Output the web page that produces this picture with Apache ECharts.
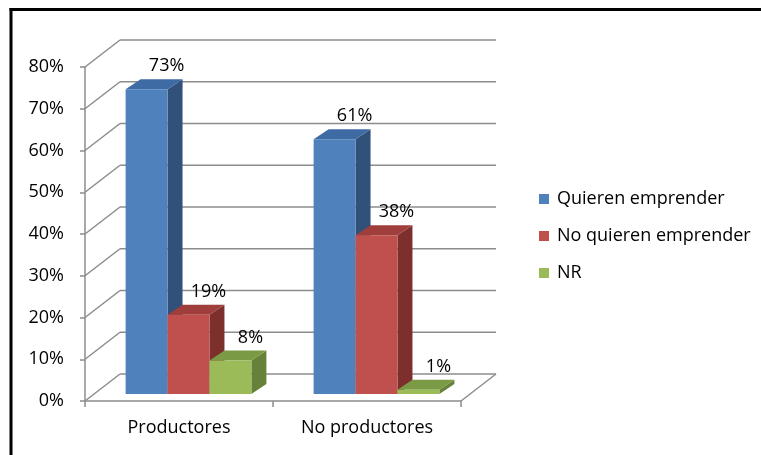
<!DOCTYPE html>
<html>
<head>
<meta charset="utf-8">
<script src="https://cdn.jsdelivr.net/npm/echarts@6/dist/echarts.min.js"></script>
<style>
html,body{margin:0;padding:0;background:#fff;}
#chart{width:761px;height:455px;}
</style>
</head>
<body>
<div id="chart"></div>
<script>
const categories = ['Productores', 'No productores'];
const seriesNames = ['Quieren emprender', 'No quieren emprender', 'NR'];
const quierenEmprender = [0.73, 0.61];
const noQuierenEmprender = [0.19, 0.38];
const noResponde = [0.08, 0.01];
const yTicks = [0, 0.1, 0.2, 0.3, 0.4, 0.5, 0.6, 0.7, 0.8];

const seriesValues = [quierenEmprender, noQuierenEmprender, noResponde];
const faceColors = [
  {front: '#4F81BD', top: '#3F6BA5', side: '#31507A'},
  {front: '#C0504D', top: '#A03E3C', side: '#7D2F2E'},
  {front: '#9BBB59', top: '#7A9A45', side: '#67813A'}
];

const FONT = '"Open Sans", sans-serif';
const WALL_DX = 35, WALL_DY = -27;      // depth of the back wall
const SHIFT_DX = 9.5, SHIFT_DY = -7;    // bars sit a little behind the front plane
const BAR_DX = 15, BAR_DY = -10;        // depth of each bar
const BAR_FRAC = 0.223;                 // bar width as a fraction of the band
const GRID_COLOR = '#8C8C8C';

const chart = echarts.init(document.getElementById('chart'), null, {renderer: 'canvas'});

function wallRender(params, api) {
  const cs = params.coordSys;
  const v = api.value(1);
  const y = api.coord([0, v])[1];
  const x0 = cs.x, x1 = cs.x + cs.width;
  const style = {stroke: GRID_COLOR, lineWidth: 1.5, fill: null};
  const children = [
    {type: 'line', shape: {x1: x0, y1: y, x2: x0 + WALL_DX, y2: y + WALL_DY}, style},
    {type: 'line', shape: {x1: x0 + WALL_DX, y1: y + WALL_DY, x2: x1 + WALL_DX, y2: y + WALL_DY}, style}
  ];
  if (v === 0) {
    children.push({type: 'line', shape: {x1: x1, y1: y, x2: x1 + WALL_DX, y2: y + WALL_DY}, style});
  }
  return {type: 'group', children};
}

function makeBarRender(sIdx) {
  return function (params, api) {
    const c = api.value(0);
    const v = api.value(1);
    const center = api.coord([c, 0]);
    const band = api.size([1, 0])[0];
    const bw = band * BAR_FRAC;
    const left = center[0] + SHIFT_DX - 1.5 * bw + sIdx * bw;
    const right = left + bw;
    const bottom = center[1] + SHIFT_DY;
    const top = api.coord([c, v])[1] + SHIFT_DY;
    const col = faceColors[sIdx];
    const pct = Math.round(v * 100) + '%';
    return {
      type: 'group',
      children: [
        {type: 'polygon', shape: {points: [[right, top], [right + BAR_DX, top + BAR_DY], [right + BAR_DX, bottom + BAR_DY], [right, bottom]]},
         style: {fill: col.side}},
        {type: 'polygon', shape: {points: [[left, top], [left + BAR_DX, top + BAR_DY], [right + BAR_DX, top + BAR_DY], [right, top]]},
         style: {fill: col.top}},
        {type: 'rect', shape: {x: left, y: top, width: bw, height: Math.max(bottom - top, 0)},
         style: {fill: col.front}},
        {type: 'text', x: left + bw / 2 + 20, y: top - 23,
         style: {text: pct, fill: '#000', font: '18px ' + FONT, align: 'center', verticalAlign: 'middle'}}
      ]
    };
  };
}

const series = [{
  type: 'custom',
  name: 'walls',
  renderItem: wallRender,
  data: yTicks.map(t => [0, t]),
  silent: true,
  z: 1,
  legendHoverLink: false
}];
seriesNames.forEach((name, i) => {
  series.push({
    type: 'custom',
    name: name,
    renderItem: makeBarRender(i),
    data: seriesValues[i].map((v, c) => [c, v]),
    itemStyle: {color: faceColors[i].front},
    z: 2 + i
  });
});

chart.setOption({
  animation: false,
  backgroundColor: '#fff',
  graphic: [
    {type: 'rect', shape: {x: 9.5, y: 8, width: 3, height: 460}, style: {fill: '#000'}},
    {type: 'rect', shape: {x: 9.5, y: 8, width: 760, height: 3}, style: {fill: '#000'}}
  ],
  grid: {left: 85, right: 300, top: 67, bottom: 54, containLabel: false},
  legend: {
    data: seriesNames,
    orient: 'vertical',
    left: 534,
    top: 185,
    itemWidth: 10,
    itemHeight: 10,
    itemGap: 19,
    icon: 'rect',
    textStyle: {fontFamily: FONT, fontSize: 18, color: '#000', padding: [0, 0, 0, 3]}
  },
  xAxis: {
    type: 'category',
    data: categories,
    axisLine: {lineStyle: {color: GRID_COLOR, width: 1.5}},
    axisTick: {show: true, length: 6, lineStyle: {color: GRID_COLOR, width: 1.5}},
    axisLabel: {fontFamily: FONT, fontSize: 18, color: '#000', margin: 18, interval: 0},
    splitLine: {show: false}
  },
  yAxis: {
    type: 'value',
    min: 0,
    max: 0.8,
    interval: 0.1,
    axisLine: {show: true, lineStyle: {color: GRID_COLOR, width: 1.5}},
    axisTick: {show: true, length: 5, lineStyle: {color: GRID_COLOR, width: 1.5}},
    axisLabel: {fontFamily: FONT, fontSize: 18, color: '#000', margin: 21,
      formatter: v => Math.round(v * 100) + '%'},
    splitLine: {show: false}
  },
  series: series
});
</script>
</body>
</html>
